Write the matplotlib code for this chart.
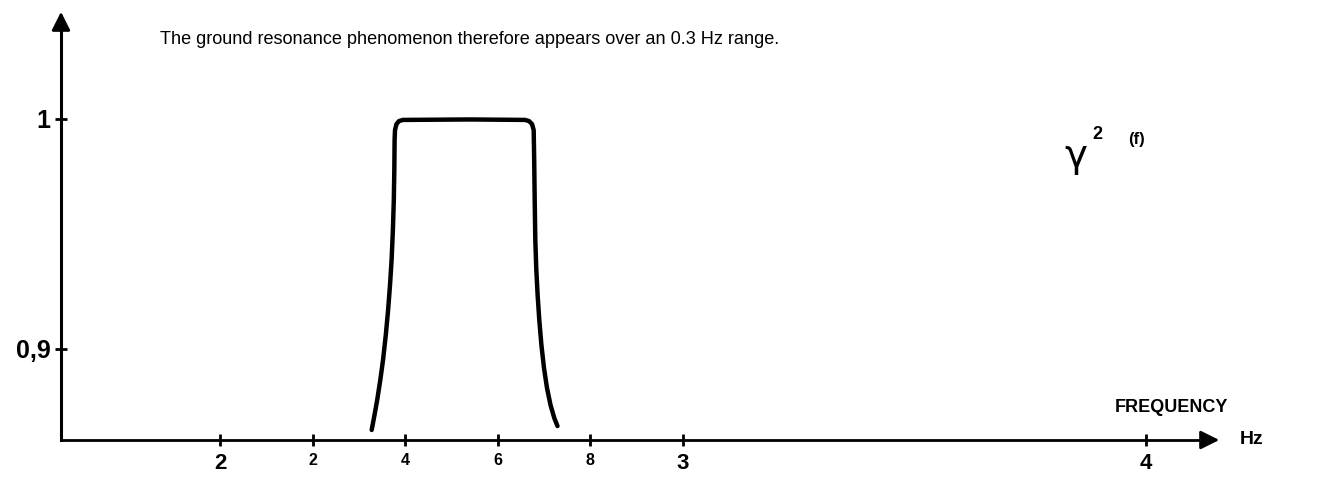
import matplotlib
matplotlib.use("Agg")
import matplotlib.pyplot as plt

# ---- data ----
freq = [2.3276, 2.3337, 2.3395, 2.3462, 2.3521, 2.3581, 2.3631, 2.3672, 2.3706, 2.3734,
        2.3754, 2.3765, 2.3771, 2.3780, 2.3812, 2.3866, 2.3952,
        2.5400,
        2.6587, 2.6674, 2.6739, 2.6775,
        2.6786, 2.6797, 2.6810, 2.6832, 2.6860, 2.6896, 2.6942, 2.6998, 2.7063, 2.7138,
        2.7220, 2.7289]
coherence = [0.8648, 0.8713, 0.8778, 0.8865, 0.8952, 0.9061, 0.9170, 0.9278, 0.9387, 0.9517,
             0.9648, 0.9778, 0.9909, 0.9952, 0.9978, 0.9991, 0.9996,
             0.9998,
             0.9996, 0.9991, 0.9978, 0.9952,
             0.9822, 0.9648, 0.9474, 0.9344, 0.9235, 0.9126, 0.9017, 0.8917, 0.8830, 0.8757,
             0.8700, 0.8665]
xticks = [2.0, 2.2, 2.4, 2.6, 2.8, 3.0, 4.0]
xtick_labels = ['2', '2', '4', '6', '8', '3', '4']
xtick_big = [True, False, False, False, False, True, True]
yticks = [0.9, 1.0]
ytick_labels = ['0,9', '1']
title = "The ground resonance phenomenon therefore appears over an 0.3 Hz range."

plt.rcParams['font.family'] = ['Liberation Sans', 'DejaVu Sans']


def px_x(p):
    return 2 + (p - 220) / 463


def px_y(p):
    return 1.0 + (119 - p) / 2300


fig = plt.figure(figsize=(13.35, 4.79), dpi=100)
ax = fig.add_axes([0, 0, 1, 1])
ax.set_xlim(px_x(0), px_x(1335))
ax.set_ylim(px_y(479), px_y(0))

x_axis_pos = px_x(61)
y_axis_pos = px_y(440)
x_end = px_x(1222)
y_end = px_y(9)

for s in ['top', 'right']:
    ax.spines[s].set_visible(False)
ax.spines['left'].set_position(('data', x_axis_pos))
ax.spines['bottom'].set_position(('data', y_axis_pos))
ax.spines['left'].set_bounds(y_axis_pos, y_end - 0.005)
ax.spines['bottom'].set_bounds(x_axis_pos, x_end - 0.02)
ax.spines['left'].set_linewidth(2.2)
ax.spines['bottom'].set_linewidth(2.0)

# arrow heads
ax.annotate('', xy=(x_axis_pos, y_end), xytext=(x_axis_pos, y_end - 0.008),
            arrowprops=dict(arrowstyle='-|>', mutation_scale=28, color='black', lw=2),
            annotation_clip=False)
ax.annotate('', xy=(x_end, y_axis_pos), xytext=(x_end - 0.04, y_axis_pos),
            arrowprops=dict(arrowstyle='-|>', mutation_scale=28, color='black', lw=2),
            annotation_clip=False)

ax.set_xticks(xticks)
ax.set_xticklabels(xtick_labels)
ax.set_yticks(yticks)
ax.set_yticklabels(ytick_labels)
ax.tick_params(axis='both', direction='inout', length=9, width=2, color='black')
ax.tick_params(axis='x', pad=5)
ax.tick_params(axis='y', pad=3)
for lab, big in zip(ax.get_xticklabels(), xtick_big):
    lab.set_fontweight('bold')
    lab.set_fontsize(16 if big else 11.5)
for lab in ax.get_yticklabels():
    lab.set_fontsize(18)
    lab.set_fontweight('bold')

ax.plot(freq, coherence, color='black', lw=3.2, solid_capstyle='round',
        solid_joinstyle='round')

# texts
ax.text(px_x(160), px_y(40), title, fontsize=13.1, ha='left', va='center')
ax.text(px_x(1064), px_y(156), 'γ', fontsize=28, ha='left', va='center',
        family=['DejaVu Sans'])
ax.text(px_x(1092), px_y(135), '2', fontsize=13, ha='left', va='center',
        fontweight='bold')
ax.text(px_x(1128), px_y(140), '(f)', fontsize=12, ha='left', va='center',
        fontweight='bold')
ax.text(px_x(1115), px_y(407), 'FREQUENCY', fontsize=13, ha='left', va='center',
        fontweight='bold')
ax.text(px_x(1240), px_y(440), 'Hz', fontsize=14, ha='left', va='center',
        fontweight='bold')

fig.savefig('out.png', dpi=100)
